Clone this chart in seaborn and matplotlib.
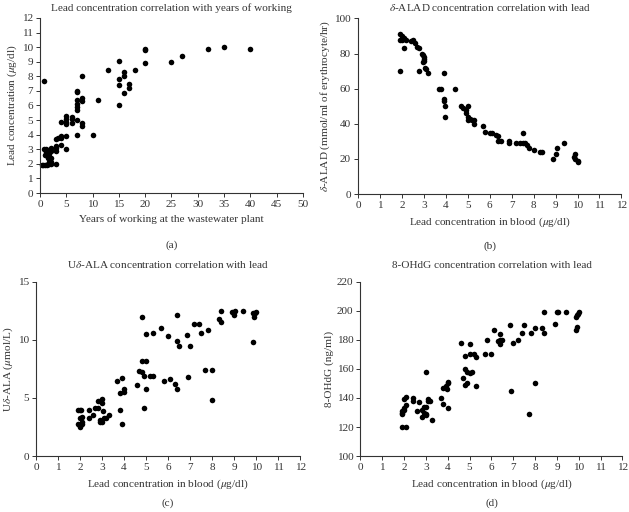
import numpy as np
import pandas as pd
import matplotlib
matplotlib.use("Agg")
import matplotlib.pyplot as plt
import seaborn as sns

# (a) years of working vs lead
years_a = [0.8, 0.3, 0.6, 1.0, 1.3, 1.5, 1.8, 2.0, 1.7, 2.0,
           1.0, 1.2, 1.5, 0.8, 1.1, 1.6, 2.0, 1.8, 2.0, 1.3, 1.6, 2.0,
           3, 3, 3, 3, 3, 3.5, 4, 4, 4, 4,
           5, 5, 5, 5, 5, 5, 6, 6, 6,
           7, 7, 7, 7, 7, 7, 7, 7, 8, 8, 8, 8, 8,
           10, 11, 13, 15, 15, 15, 15, 16, 16, 16, 17, 17, 18,
           20, 20, 20, 25, 27, 32, 35, 40]
lead_a = [7.7, 1.9, 1.9, 1.9, 1.9, 2.0, 2.0, 2.0, 2.1, 2.1,
          2.6, 2.8, 2.5, 3.0, 3.0, 2.9, 2.9, 2.7, 3.1, 2.7, 2.4, 2.4,
          2.0, 2.9, 3.1, 3.2, 3.7, 3.8, 3.8, 3.9, 3.3, 4.9,
          3.0, 3.9, 4.7, 4.9, 5.1, 5.3, 4.8, 5.1, 5.2,
          4.0, 5.0, 5.7, 5.9, 6.1, 6.4, 6.9, 7.0, 8.0, 6.3, 6.5, 4.6, 4.8,
          4.0, 6.4, 8.4, 9.05, 7.8, 7.4, 6.0, 8.3, 8.0, 6.85, 7.5, 7.2, 8.4,
          9.85, 9.8, 8.9, 9.0, 9.4, 9.9, 10.0, 9.9]

# (b) lead vs delta-ALAD
lead_b = [1.9, 1.9, 2.0, 2.1, 2.2, 2.0, 2.1, 1.9, 2.4, 2.5, 2.6, 2.7, 2.8, 2.8,
          2.9, 2.95, 3.0, 3.0, 2.95, 3.05, 3.1, 3.2, 3.0,
          3.7, 3.8, 3.9, 3.9, 3.9, 3.95, 3.95, 4.4, 4.7, 4.8, 4.9, 4.9,
          5.0, 5.0, 5.0, 5.1, 5.2, 5.3, 5.3, 5.7, 5.8, 6.0, 6.1, 6.3, 6.4,
          6.4, 6.5, 6.9, 6.9, 7.2, 7.4, 7.5, 7.5, 7.6, 7.7, 7.8, 8.0, 8.3,
          8.4, 8.9, 9.0, 9.05, 9.4, 9.85, 9.9, 9.9, 10.0, 10.0]
alad_b = [91, 88, 90, 89, 88, 88, 83, 70, 87, 88, 86, 84, 83, 70,
          80, 79, 78, 76, 75, 72, 71, 69, 77,
          60, 60, 69, 54, 53, 50, 44, 60, 50, 49, 48, 46,
          50, 44, 42, 43, 42, 40, 42, 39, 35.5, 35, 34.5, 33.5, 33,
          30, 30, 30, 29, 29, 29, 29, 35, 29, 28, 26, 25, 24,
          24, 20, 23, 26, 29, 21, 23, 20, 18, 19]

# (c) lead vs U delta-ALA
lead_c = [1.9, 2.0, 2.05, 1.9, 2.0, 2.0, 2.1, 2.1, 2.0, 2.1, 2.4, 2.4, 2.6,
          2.7, 2.8, 2.8, 2.9, 2.9, 2.9, 3.0, 3.0, 3.0, 3.05, 3.1, 3.2, 3.3,
          3.7, 3.8, 3.8, 3.9, 3.9, 4.0, 4.0, 4.6, 4.7, 4.8, 4.8, 4.8, 4.9,
          4.9, 5.0, 5.0, 5.0, 5.2, 5.3, 5.3, 5.7, 5.8, 6.0, 6.1, 6.3, 6.4,
          6.4, 6.4, 6.5, 6.85, 6.9, 7.0, 7.2, 7.4, 7.5, 7.7, 7.8, 8.0, 8.0,
          8.3, 8.4, 8.4, 8.9, 9.0, 9.05, 9.4, 9.85, 9.85, 9.9, 9.95, 10.0]
uala_c = [4.0, 4.0, 4.0, 2.8, 2.6, 2.5, 2.8, 2.9, 3.3, 3.4, 4.0, 3.3, 3.5,
          4.1, 4.1, 4.7, 4.7, 3.1, 2.9, 2.9, 4.9, 4.6, 3.9, 3.3, 3.3, 3.5,
          6.5, 5.4, 4.0, 6.7, 2.8, 5.8, 5.5, 6.1, 7.3, 7.2, 8.2, 12.0, 6.9,
          4.1, 10.5, 8.2, 5.8, 6.9, 6.9, 10.6, 11.0, 6.5, 10.3, 6.6, 6.2, 12.1,
          9.9, 5.8, 9.5, 10.4, 6.8, 9.5, 11.4, 11.4, 10.6, 7.4, 10.8, 7.4, 4.8,
          11.8, 12.5, 11.5, 12.4, 12.1, 12.5, 12.5, 12.3, 9.8, 12.0, 12.3, 12.4]

# (d) lead vs 8-OHdG
lead_d = [1.9, 2.1, 1.9, 1.9, 1.9, 2.0, 2.0, 2.0, 2.1, 2.1, 2.4, 2.4, 2.6,
          2.7, 2.8, 2.8, 2.9, 2.9, 3.0, 3.0, 3.0, 3.0, 3.1, 3.1, 3.2, 3.3,
          3.7, 3.8, 3.8, 3.9, 3.95, 4.0, 4.0, 4.0, 4.6, 4.7, 4.8, 4.8, 4.8,
          4.9, 4.9, 5.0, 5.0, 5.0, 5.1, 5.2, 5.3, 5.3, 5.7, 5.8, 6.0, 6.1,
          6.3, 6.4, 6.4, 6.4, 6.5, 6.85, 6.9, 7.0, 7.2, 7.4, 7.5, 7.7, 7.8,
          8.0, 8.0, 8.3, 8.4, 8.4, 8.9, 9.0, 9.05, 9.4, 9.85, 9.85, 9.9, 9.9,
          9.95, 10.0]
ohdg_d = [120, 120, 129, 130, 131, 132, 133, 139, 141, 135, 140, 138, 131,
          137, 127, 132, 134, 130, 128, 129, 134, 158, 139, 138, 138, 125,
          140, 136, 147, 148, 146, 151, 150, 133, 178, 154, 169, 160, 149,
          150, 158, 157, 170, 177, 158, 170, 168, 148, 170, 180, 170, 187,
          179, 184, 177, 180, 180, 190, 145, 178, 180, 185, 190, 129, 185,
          188, 150, 188, 185, 199, 191, 199, 199, 199, 187, 196, 189, 197,
          198, 199]

sns.set_style("ticks")
plt.rcParams["font.family"] = ["Liberation Serif", "DejaVu Serif"]
plt.rcParams["mathtext.fontset"] = "stix"

grey = "#333333"
fs = 8.1

fig = plt.figure(figsize=(6.29, 5.12), dpi=100)
ax_a = fig.add_axes([0.0636, 0.623, 0.418, 0.342])
ax_b = fig.add_axes([0.569, 0.621, 0.419, 0.343])
ax_c = fig.add_axes([0.0572, 0.109, 0.420, 0.341])
ax_d = fig.add_axes([0.573, 0.109, 0.4166, 0.341])


def panel(ax, x, y, title, xlabel, ylabel, xlim, xticks, ylim, yticks, tag, tpad, tag_y):
    df = pd.DataFrame({"x": x, "y": y})
    sns.scatterplot(data=df, x="x", y="y", ax=ax, color="black", s=16,
                    linewidth=0, clip_on=False)
    ax.set_xlim(*xlim)
    ax.set_ylim(*ylim)
    ax.set_xticks(xticks)
    ax.set_yticks(yticks)
    ax.set_title(title, fontsize=fs, color=grey, pad=tpad)
    ax.set_xlabel(xlabel, fontsize=fs, color=grey, labelpad=4)
    ax.set_ylabel(ylabel, fontsize=fs, color=grey, labelpad=2)
    ax.tick_params(labelsize=fs, colors=grey, length=3, width=0.7, pad=2)
    for sp in ["left", "bottom"]:
        ax.spines[sp].set_color(grey)
        ax.spines[sp].set_linewidth(0.8)
    sns.despine(ax=ax)
    ax.text(0.5, tag_y, tag, transform=ax.transAxes, ha="center", va="center",
            fontsize=fs, color=grey)


lead_lab = r"Lead concentration in blood ($\mu$g/dl)"
panel(ax_a, years_a, lead_a, "Lead concentration correlation with years of working",
      "Years of working at the wastewater plant", r"Lead concentration ($\mu$g/dl)",
      (0, 50), range(0, 51, 5), (0, 12), range(0, 13), "(a)", 5, -0.297)
panel(ax_b, lead_b, alad_b, r"$\delta$-ALAD concentration correlation with lead",
      lead_lab, r"$\delta$-ALAD (mmol/ml of erythrocyte/hr)",
      (0, 12), range(0, 13), (0, 100), range(0, 101, 20), "(b)", 5, -0.297)
panel(ax_c, lead_c, uala_c, r"U$\delta$-ALA concentration correlation with lead",
      lead_lab, r"U$\delta$-ALA ($\mu$mol/L)",
      (0, 12), range(0, 13), (0, 15), range(0, 16, 5), "(c)", 10, -0.27)
panel(ax_d, lead_d, ohdg_d, "8-OHdG concentration correlation with lead",
      lead_lab, "8-OHdG (ng/ml)",
      (0, 12), range(0, 13), (100, 220), range(100, 221, 20), "(d)", 10, -0.27)

fig.savefig("out.png", dpi=100)
